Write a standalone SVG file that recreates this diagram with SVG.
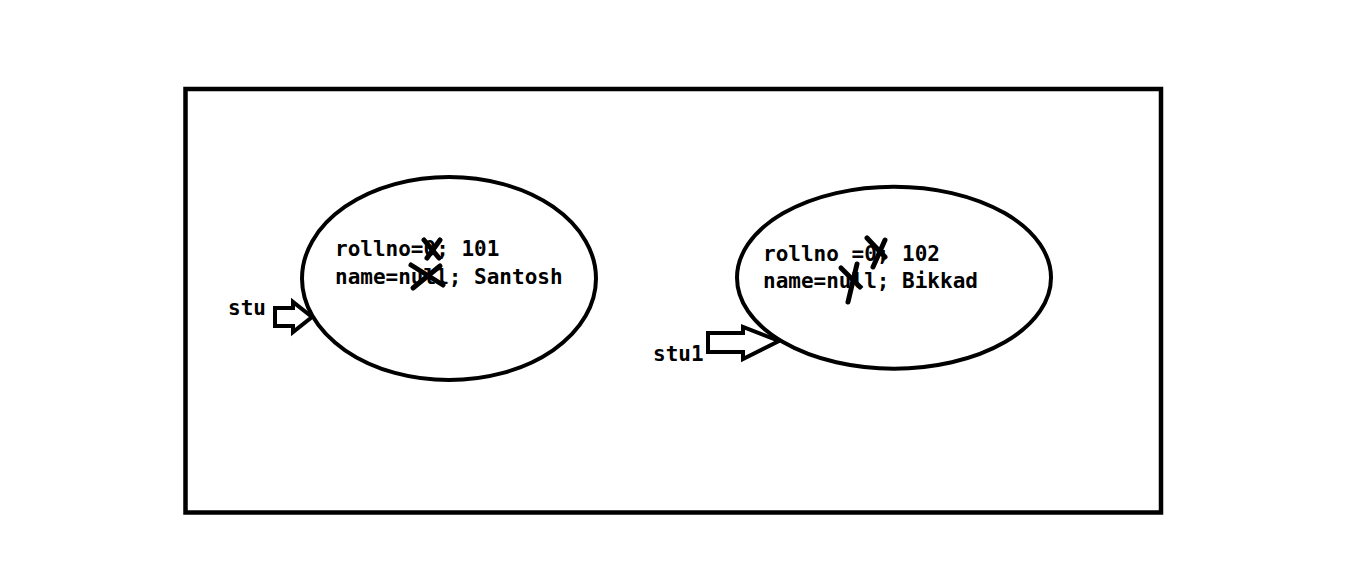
<svg xmlns="http://www.w3.org/2000/svg" width="1360" height="566" viewBox="0 0 1360 566">
<style>
.ln{fill:none;stroke:#000;stroke-width:4}
.ar{fill:#fff;stroke:#000;stroke-width:4;stroke-linejoin:miter}
.x{stroke:#000;stroke-width:5;stroke-linecap:round}
text{font-family:"DejaVu Sans Mono","Liberation Mono",monospace;font-weight:bold;font-size:21px;fill:#000}
</style>
<rect width="1360" height="566" fill="#fff"/>
<rect id="frame" x="185.5" y="89" width="975.5" height="423.5" fill="none" stroke="#000" stroke-width="4.5"/>
<g id="stu-object">
<ellipse class="ln" cx="449" cy="278.5" rx="147" ry="101.5"/>
<text x="335" y="256">rollno=0; 101</text>
<text x="335" y="284">name=null; Santosh</text>
<line class="x" x1="424" y1="240" x2="439" y2="258"/>
<line class="x" x1="440" y1="240" x2="427" y2="258"/>
<line class="x" x1="411" y1="265" x2="443" y2="285"/>
<line class="x" x1="440" y1="266" x2="413" y2="288"/>
</g>
<g id="stu1-object">
<ellipse class="ln" cx="894" cy="277.7" rx="157" ry="91"/>
<text x="763" y="261">rollno =0; 102</text>
<text x="763" y="288">name=null; Bikkad</text>
<line class="x" x1="867" y1="238" x2="885" y2="257"/>
<line class="x" x1="885" y1="240" x2="873" y2="267"/>
<line class="x" x1="841" y1="268" x2="860" y2="287"/>
<line class="x" x1="857" y1="264" x2="848" y2="302"/>
</g>
<g id="stu-ref">
<text x="228" y="315">stu</text>
</g>
<g id="stu1-ref">
<text x="653" y="361">stu1</text>
</g>
<g id="connectors">
<path class="ar" d="M275,308 L293,308 L293,302 L312,317 L293,332 L293,326 L275,326 Z"/>
<path class="ar" d="M708,333 L743,333 L743,327 L779,341 L743,359 L743,352 L708,352 Z"/>
</g>
</svg>
